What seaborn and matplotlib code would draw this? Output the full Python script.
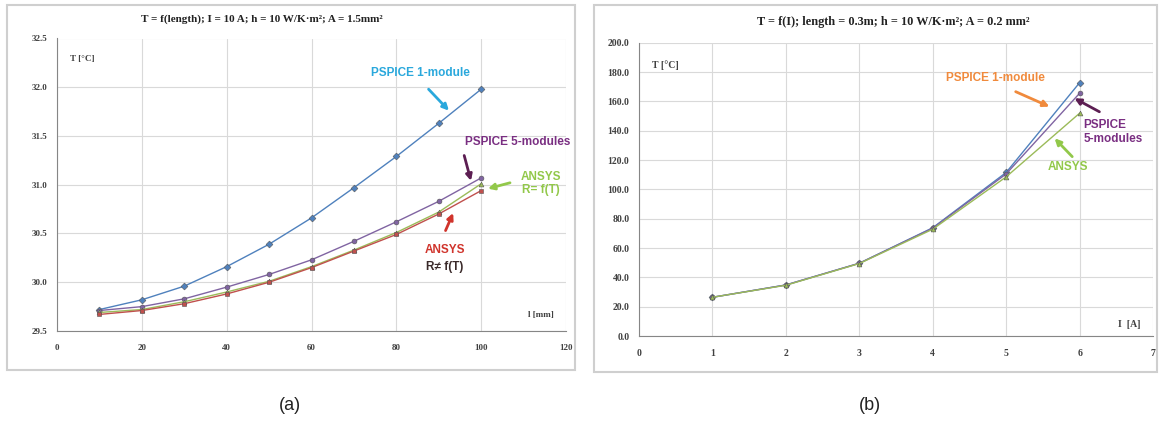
import numpy as np
import pandas as pd
import matplotlib
matplotlib.use("Agg")
import matplotlib.pyplot as plt
from matplotlib.patches import Rectangle
import seaborn as sns

# ---------------- data ----------------
length_mm = [10, 20, 30, 40, 50, 60, 70, 80, 90, 100]
a_pspice_1mod = [29.72, 29.82, 29.96, 30.16, 30.39, 30.66, 30.97, 31.29, 31.63, 31.98]
a_pspice_5mod = [29.71, 29.75, 29.83, 29.95, 30.08, 30.23, 30.42, 30.62, 30.83, 31.07]
a_ansys_rT = [29.69, 29.72, 29.80, 29.90, 30.01, 30.16, 30.33, 30.51, 30.72, 31.01]
a_ansys_rconst = [29.67, 29.71, 29.78, 29.88, 30.00, 30.15, 30.32, 30.49, 30.70, 30.94]

current_A = [1, 2, 3, 4, 5, 6]
b_pspice_1mod = [26.4, 34.8, 49.6, 73.8, 111.5, 172.7]
b_pspice_5mod = [26.4, 34.8, 49.6, 73.5, 110.5, 165.5]
b_ansys = [26.4, 34.6, 49.4, 72.8, 108.5, 151.9]

a_yticks = [29.5, 30.0, 30.5, 31.0, 31.5, 32.0, 32.5]
a_xticks = [0, 20, 40, 60, 80, 100, 120]
b_yticks = [0, 20, 40, 60, 80, 100, 120, 140, 160, 180, 200]
b_xticks = [0, 1, 2, 3, 4, 5, 6, 7]

title_a = "T = f(length); I = 10 A; h = 10 W/K·m²; A = 1.5mm²"
title_b = "T = f(I); length = 0.3m; h = 10 W/K·m²; A = 0.2 mm²"

# ---------------- style ----------------
sns.set_theme(style="white")
plt.rcParams["font.family"] = ["Liberation Sans", "DejaVu Sans"]

BLUE = "#4F81BD"
RED = "#C0504D"
GREEN = "#9BBB59"
PURPLE = "#8064A2"
GRID = "#d9d9d9"
AXC = "#868686"
TICKC = "#404040"

fig = plt.figure(figsize=(11.6, 4.21), dpi=100)
fig.patch.set_facecolor("white")

# panel frames
for (x0, y0, w, h) in [(7, 5, 568, 365), (594, 5, 563, 367)]:
    fig.patches.append(Rectangle((x0 / 1160, 1 - (y0 + h) / 421), w / 1160, h / 421,
                                 transform=fig.transFigure, facecolor="none",
                                 edgecolor="#cfcfcf", lw=1.5, zorder=-10))

ax1 = fig.add_axes([57 / 1160, 1 - 331 / 421, 509 / 1160, 292.5 / 421])
ax2 = fig.add_axes([639 / 1160, 1 - 336 / 421, 514 / 1160, 293.3 / 421])
for ax in (ax1, ax2):
    ax.set_zorder(5)
    ax.patch.set_alpha(0)

df_a = pd.DataFrame({
    "x": length_mm * 4,
    "T": a_pspice_1mod + a_pspice_5mod + a_ansys_rT + a_ansys_rconst,
    "series": (["PSPICE 1-module"] * 10 + ["PSPICE 5-modules"] * 10 +
               ["ANSYS R=f(T)"] * 10 + ["ANSYS R!=f(T)"] * 10),
})
df_b = pd.DataFrame({
    "x": current_A * 3,
    "T": b_pspice_1mod + b_pspice_5mod + b_ansys,
    "series": ["PSPICE 1-module"] * 6 + ["PSPICE 5-modules"] * 6 + ["ANSYS"] * 6,
})

pal_a = {"PSPICE 1-module": BLUE, "PSPICE 5-modules": PURPLE,
         "ANSYS R=f(T)": GREEN, "ANSYS R!=f(T)": RED}
mk_a = {"PSPICE 1-module": "D", "PSPICE 5-modules": "o",
        "ANSYS R=f(T)": "^", "ANSYS R!=f(T)": "s"}
pal_b = {"PSPICE 1-module": BLUE, "PSPICE 5-modules": PURPLE, "ANSYS": GREEN}
mk_b = {"PSPICE 1-module": "D", "PSPICE 5-modules": "o", "ANSYS": "^"}

sns.lineplot(data=df_a, x="x", y="T", hue="series", style="series", palette=pal_a,
             markers=mk_a, dashes=False, markersize=3.5, linewidth=1.0,
             markeredgecolor="#555555", markeredgewidth=0.4, legend=False, ax=ax1)
sns.lineplot(data=df_b, x="x", y="T", hue="series", style="series", palette=pal_b,
             markers=mk_b, dashes=False, markersize=3.5, linewidth=1.0,
             markeredgecolor="#555555", markeredgewidth=0.4, legend=False, ax=ax2)

serif = ["Liberation Serif", "DejaVu Serif"]

def style_axes(ax, xt, yt, xlim, ylim, yfmt, fs):
    ax.set_xlim(*xlim)
    ax.set_ylim(*ylim)
    ax.set_xticks(xt)
    ax.set_yticks(yt)
    ax.set_xticklabels([str(v) for v in xt], fontfamily=serif, fontweight="bold",
                       fontsize=fs, color=TICKC)
    ax.set_yticklabels([yfmt.format(v) for v in yt], fontfamily=serif, fontweight="bold",
                       fontsize=fs, color=TICKC)
    ax.grid(True, color=GRID, lw=0.8)
    ax.set_axisbelow(True)
    for s in ["top", "right"]:
        ax.spines[s].set_visible(False)
    for s in ["left", "bottom"]:
        ax.spines[s].set_color(AXC)
        ax.spines[s].set_linewidth(0.8)
    ax.tick_params(axis="both", length=3, width=0.6, color=AXC, pad=4)
    ax.tick_params(axis="x", pad=6)
    ax.set_xlabel("")
    ax.set_ylabel("")

style_axes(ax1, a_xticks, a_yticks, (0, 120), (29.5, 32.5), "{:.1f}", 6.5)
style_axes(ax2, b_xticks, b_yticks, (0, 7), (0, 200), "{:.1f}", 7)

# axis labels inside plots
ax1.text(0.025, 0.93, "T [°C]", transform=ax1.transAxes, fontfamily=serif,
         fontweight="bold", fontsize=6.5, color=TICKC, ha="left", va="center")
ax1.text(0.975, 0.055, "l [mm]", transform=ax1.transAxes, fontfamily=serif,
         fontweight="bold", fontsize=6.5, color=TICKC, ha="right", va="center")
ax2.text(0.025, 0.925, "T [°C]", transform=ax2.transAxes, fontfamily=serif,
         fontweight="bold", fontsize=7, color=TICKC, ha="left", va="center")
ax2.text(0.975, 0.04, "I  [A]", transform=ax2.transAxes, fontfamily=serif,
         fontweight="bold", fontsize=7, color=TICKC, ha="right", va="center")

# titles
fig.text(262 / 1160, 1 - 19 / 421, title_a, fontfamily=serif, fontweight="bold",
         fontsize=8, color="#222222", ha="center", va="center")
fig.text(893 / 1160, 1 - 22 / 421, title_b, fontfamily=serif, fontweight="bold",
         fontsize=8.8, color="#222222", ha="center", va="center")

# captions
fig.text(290 / 1160, 1 - 405 / 421, "(a)", fontsize=13, color="#222222",
         ha="center", va="center")
fig.text(870 / 1160, 1 - 405 / 421, "(b)", fontsize=13, color="#222222",
         ha="center", va="center")

# annotations (a)
CYAN = "#2aa8dc"
LGREEN = "#92c84a"
ARW = dict(arrowstyle="-|>", lw=2.0, mutation_scale=9, shrinkA=0, shrinkB=0)

ax1.text(85.6, 32.15, "PSPICE 1-module", color=CYAN, fontsize=8.5, fontweight="bold",
         ha="center", va="center")
ax1.annotate("", xy=(92.4, 31.76), xytext=(87.6, 31.98),
             arrowprops=dict(ARW, color=CYAN))
ax1.text(108.5, 31.44, "PSPICE 5-modules", color="#7a2f82", fontsize=8.5,
         fontweight="bold", ha="center", va="center")
ax1.annotate("", xy=(97.6, 31.04), xytext=(96.0, 31.30),
             arrowprops=dict(ARW, color="#5c1e52"))
ax1.text(114.1, 31.01, "ANSYS\nR= f(T)", color=LGREEN, fontsize=8.5, fontweight="bold",
         ha="center", va="center", linespacing=1.1)
ax1.annotate("", xy=(101.6, 30.96), xytext=(106.8, 31.02),
             arrowprops=dict(ARW, color=LGREEN))
ax1.text(91.4, 30.33, "ANSYS", color="#d0342c", fontsize=8.5, fontweight="bold",
         ha="center", va="center")
ax1.text(91.4, 30.16, "R≠ f(T)", color="#3a2a2a", fontsize=8.5, fontweight="bold",
         ha="center", va="center")
ax1.annotate("", xy=(93.4, 30.71), xytext=(91.6, 30.53),
             arrowprops=dict(ARW, color="#d0342c"))

# annotations (b)
ORANGE = "#f08a3c"
ax2.text(4.86, 175.7, "PSPICE 1-module", color=ORANGE, fontsize=8.5, fontweight="bold",
         ha="center", va="center")
ax2.annotate("", xy=(5.59, 156.4), xytext=(5.13, 166.6),
             arrowprops=dict(ARW, color=ORANGE))
ax2.text(6.05, 139.3, "PSPICE\n5-modules", color="#7a2f82", fontsize=8.5,
         fontweight="bold", ha="left", va="center", linespacing=1.25)
ax2.annotate("", xy=(5.93, 162.1), xytext=(6.27, 152.9),
             arrowprops=dict(ARW, color="#5c1e52"))
ax2.text(5.84, 115.5, "ANSYS", color=LGREEN, fontsize=8.5, fontweight="bold",
         ha="center", va="center")
ax2.annotate("", xy=(5.66, 134.8), xytext=(5.90, 122.3),
             arrowprops=dict(ARW, color=LGREEN))

fig.savefig("out.png", dpi=100)
